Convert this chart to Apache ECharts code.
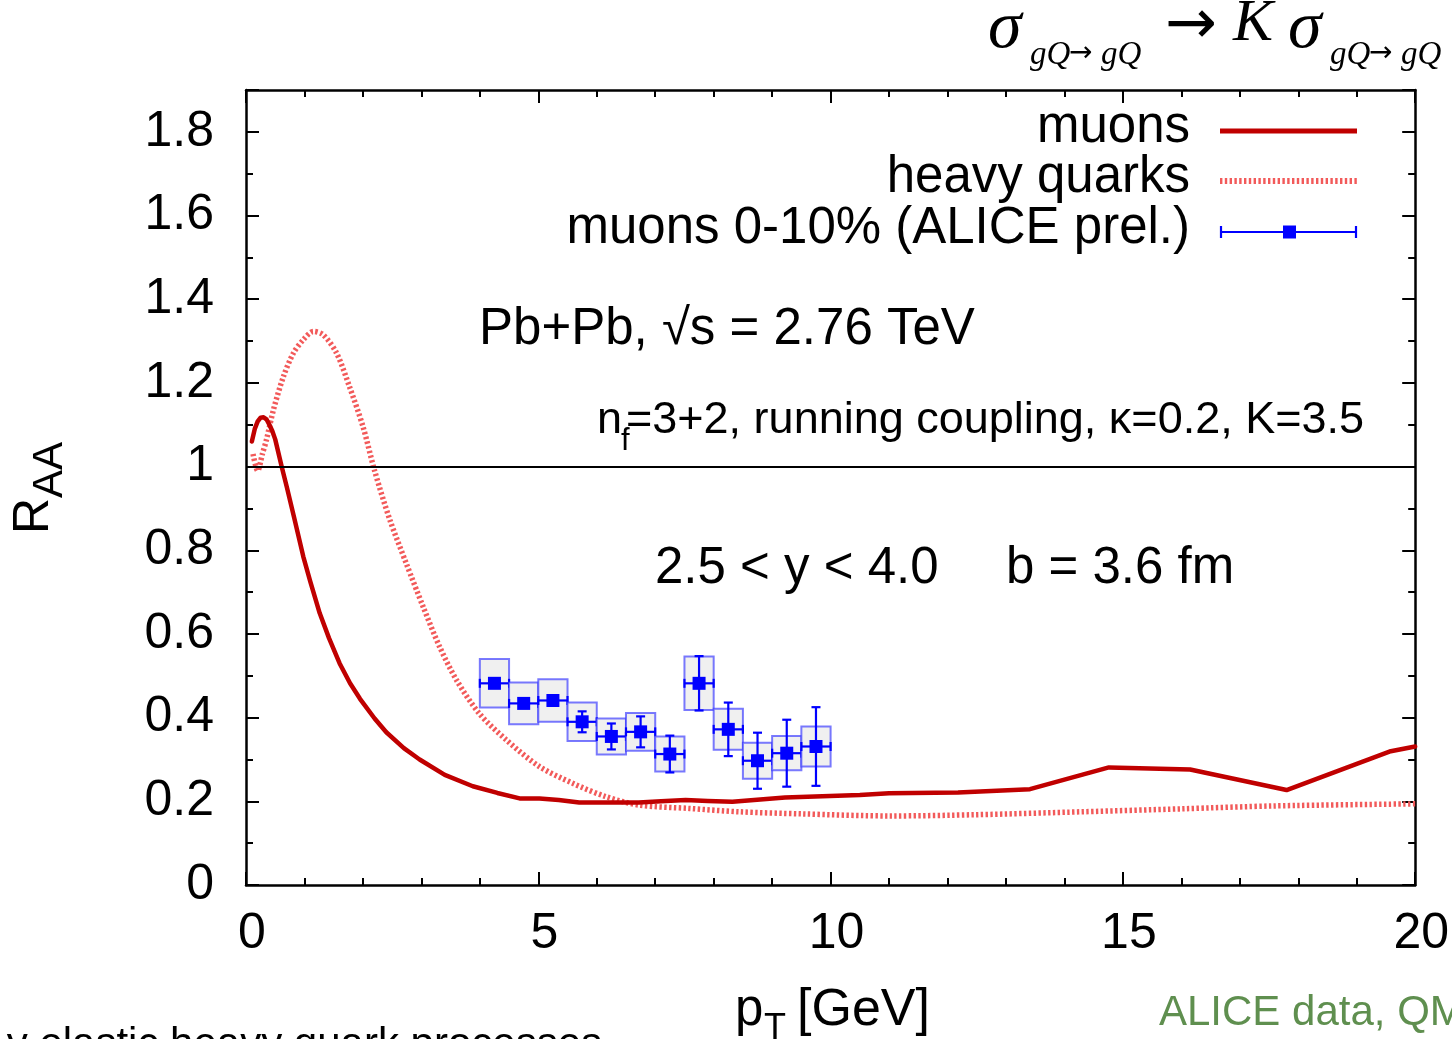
<!DOCTYPE html>
<html><head><meta charset="utf-8">
<script src="https://cdn.jsdelivr.net/npm/echarts@6/dist/echarts.min.js"></script>
<style>html,body{margin:0;padding:0;background:#fff;overflow:hidden}#c{width:1452px;height:1039px;}</style>
</head><body><div id="c"></div>
<script>
// ---- data ----
const xRange = [0, 20];
const xStep = 5;
const yRange = [0, 1.9];
const yStep = 0.2;

const muonsPt  = [0.10,0.15,0.20,0.25,0.30,0.35,0.40,0.45,0.50,0.61,0.70,0.82,0.98,1.10,1.26,1.42,1.60,1.78,1.95,2.20,2.40,2.70,2.97,3.40,3.88,4.30,4.68,5.02,5.35,5.70,6.20,6.72,7.10,7.52,7.90,8.32,9.22,10.5,11.0,12.18,13.41,14.76,16.15,17.80,19.56,20.0];
const muonsRaa = [1.06,1.09,1.108,1.117,1.118,1.113,1.100,1.085,1.065,1.00,0.95,0.88,0.785,0.725,0.650,0.590,0.530,0.482,0.445,0.398,0.365,0.327,0.300,0.263,0.236,0.220,0.207,0.207,0.203,0.197,0.197,0.197,0.200,0.203,0.201,0.199,0.209,0.215,0.219,0.221,0.229,0.281,0.276,0.227,0.319,0.331];

const hqPt  = [0.12,0.20,0.28,0.35,0.47,0.64,0.81,0.98,1.15,1.32,1.55,1.77,2.00,2.20,2.46,2.74,3.03,3.31,3.60,3.99,4.45,5.02,5.59,6.16,6.72,7.58,8.43,9.50,11.03,12.50,14.31,16.00,17.59,20.0];
const hqRaa = [1.03,0.99,1.03,1.064,1.136,1.215,1.271,1.303,1.323,1.315,1.271,1.191,1.096,0.99,0.873,0.769,0.665,0.570,0.490,0.410,0.347,0.283,0.243,0.211,0.191,0.183,0.175,0.170,0.165,0.168,0.175,0.182,0.189,0.194];

const alicePt   = [4.25,4.75,5.25,5.75,6.25,6.75,7.25,7.75,8.25,8.75,9.25,9.75];
const aliceRaa  = [0.482,0.434,0.441,0.390,0.355,0.366,0.313,0.482,0.372,0.297,0.315,0.331];
const aliceStat = [0.010,0.010,0.010,0.025,0.031,0.037,0.044,0.065,0.064,0.067,0.080,0.094];
const aliceSys  = [0.058,0.050,0.051,0.046,0.043,0.045,0.042,0.064,0.049,0.043,0.041,0.048];
const aliceBinHalf = [0.25,0.25,0.25,0.25,0.25,0.25,0.25,0.25,0.25,0.25,0.25,0.25];

const legendNames = ['muons', 'heavy quarks', 'muons 0-10% (ALICE prel.)'];

// ---- chart ----
const SANS = "'Liberation Sans', Arial, Helvetica, sans-serif";
const SERIF = "'Liberation Serif', 'Times New Roman', serif";
const RED = '#c00000', PINK = '#f25a5a', BLUE = '#0000ff';

const muonsData = muonsPt.map((x, i) => [x, muonsRaa[i]]);
const hqData = hqPt.map((x, i) => [x, hqRaa[i]]);
const aliceData = alicePt.map((x, i) => [x, aliceRaa[i], aliceStat[i], aliceSys[i], aliceBinHalf[i]]);

function renderAlice(params, api) {
  const x = api.value(0), y = api.value(1), st = api.value(2), sy = api.value(3), hw = api.value(4);
  const pL = api.coord([x - hw, y]), pR = api.coord([x + hw, y]), pC = api.coord([x, y]);
  const sT = api.coord([x, y + sy]), sB = api.coord([x, y - sy]);
  const eT = api.coord([x, y + st]), eB = api.coord([x, y - st]);
  const lw = 2.2, cap = 4.5, m = 6.5;
  const ln = (x1, y1, x2, y2) => ({type: 'line', shape: {x1, y1, x2, y2}, style: {stroke: BLUE, lineWidth: lw}});
  return {type: 'group', children: [
    {type: 'rect', shape: {x: pL[0], y: sT[1], width: pR[0] - pL[0], height: sB[1] - sT[1]},
     style: {fill: '#f0f0f0', stroke: 'rgba(50,50,255,0.65)', lineWidth: 2}},
    ln(pL[0], pC[1], pR[0], pC[1]),
    ln(pL[0], pC[1] - cap, pL[0], pC[1] + cap),
    ln(pR[0], pC[1] - cap, pR[0], pC[1] + cap),
    ln(pC[0], eT[1], pC[0], eB[1]),
    ln(pC[0] - cap, eT[1], pC[0] + cap, eT[1]),
    ln(pC[0] - cap, eB[1], pC[0] + cap, eB[1]),
    {type: 'rect', shape: {x: pC[0] - m, y: pC[1] - m, width: 2 * m, height: 2 * m}, style: {fill: BLUE}}
  ]};
}

const axisCommon = {
  type: 'value',
  axisLine: {show: true, onZero: false, lineStyle: {color: '#000', width: 2.5}},
  axisTick: {show: true, inside: true, length: 13, lineStyle: {color: '#000', width: 2}},
  minorTick: {show: true, length: 7, lineStyle: {color: '#000', width: 2}},
  splitLine: {show: false},
  minorSplitLine: {show: false}
};

function yFmt(v) {
  const k = v / yStep;
  if (Math.abs(k - Math.round(k)) > 1e-6) return '';
  return String(+v.toFixed(1));
}

const chart = echarts.init(document.getElementById('c'), null, {renderer: 'canvas'});

function t(text, x, y, font, extra) {
  return Object.assign({type: 'text', x, y, silent: true,
    style: Object.assign({text, font, fill: '#000', align: 'left', verticalAlign: 'middle'}, (extra && extra.style) || {})},
    extra && extra.rotation !== undefined ? {rotation: extra.rotation} : {});
}

const legendY = [131, 181, 232];
const graphics = [
  // top formula
  t('σ', 988, 29, 'italic 68px ' + SERIF),
  t('gQ', 1030, 55, 'italic 33px ' + SERIF),
  t('→', 1069, 54, '28px DejaVu Sans'),
  t('gQ', 1101, 55, 'italic 33px ' + SERIF),
  t('→', 1165, 27, '62px DejaVu Sans'),
  t('K', 1233, 24, 'italic 60px ' + SERIF),
  t('σ', 1288, 29, 'italic 68px ' + SERIF),
  t('gQ', 1330, 55, 'italic 33px ' + SERIF),
  t('→', 1369, 54, '28px DejaVu Sans'),
  t('gQ', 1401, 55, 'italic 33px ' + SERIF),
  // annotations
  t('Pb+Pb, √s = 2.76 TeV', 479, 330, '51px ' + SANS),
  t('n', 597, 421, '45px ' + SANS),
  t('f', 621, 441, '31px ' + SANS),
  t('=3+2, running coupling, κ=0.2, K=3.5', 626, 421, '45px ' + SANS),
  t('2.5 < y < 4.0', 655, 569, '51px ' + SANS),
  t('b = 3.6 fm', 1006, 569, '51px ' + SANS),
  // legend texts
  t(legendNames[0], 1190, legendY[0] - 3, '51px ' + SANS, {style: {align: 'right'}}),
  t(legendNames[1], 1190, legendY[1] - 3, '51px ' + SANS, {style: {align: 'right'}}),
  t(legendNames[2], 1190, legendY[2] - 3, '51px ' + SANS, {style: {align: 'right'}}),
  // legend samples
  {type: 'line', silent: true, shape: {x1: 1220, y1: legendY[0], x2: 1357, y2: legendY[0]}, style: {stroke: RED, lineWidth: 5}},
  {type: 'line', silent: true, shape: {x1: 1220, y1: legendY[1], x2: 1357, y2: legendY[1]}, style: {stroke: PINK, lineWidth: 6, lineDash: [2.4, 2.4]}},
  {type: 'line', silent: true, shape: {x1: 1220, y1: legendY[2], x2: 1357, y2: legendY[2]}, style: {stroke: BLUE, lineWidth: 2.2}},
  {type: 'line', silent: true, shape: {x1: 1221, y1: legendY[2] - 6, x2: 1221, y2: legendY[2] + 6}, style: {stroke: BLUE, lineWidth: 2.2}},
  {type: 'line', silent: true, shape: {x1: 1356, y1: legendY[2] - 6, x2: 1356, y2: legendY[2] + 6}, style: {stroke: BLUE, lineWidth: 2.2}},
  {type: 'rect', silent: true, shape: {x: 1283, y: legendY[2] - 6.5, width: 13, height: 13}, style: {fill: BLUE}},
  // axis titles
  t('R', 34, 534, '50px ' + SANS, {rotation: Math.PI / 2}),
  t('AA', 50.5, 498, '42px ' + SANS, {rotation: Math.PI / 2}),
  t('p', 735, 1011, '51px ' + SANS),
  t('T', 764, 1029, '36px ' + SANS),
  t('[GeV]', 797, 1011, '52px ' + SANS),
  // cut-off texts at bottom
  t('y elastic heavy quark processes', 602, 1045, '42px ' + SANS, {style: {align: 'right'}}),
  t('ALICE data, QM2011', 1159, 1013, '42px ' + SANS, {style: {fill: '#5f8f4f'}})
];

chart.setOption({
  animation: false,
  backgroundColor: '#fff',
  grid: {left: 246, top: 90, width: 1172, height: 795, containLabel: false},
  xAxis: [
    Object.assign({}, axisCommon, {position: 'bottom', min: xRange[0], max: xRange[1], interval: xStep,
      minorTick: Object.assign({}, axisCommon.minorTick, {splitNumber: 5}),
      axisLabel: {show: true, color: '#000', fontFamily: SANS, fontSize: 50, margin: 24, padding: [0, 0, 0, 12],
        showMinLabel: true, showMaxLabel: true}}),
    Object.assign({}, axisCommon, {position: 'top', min: xRange[0], max: xRange[1], interval: xStep,
      minorTick: Object.assign({}, axisCommon.minorTick, {splitNumber: 5}),
      axisLabel: {show: false}})
  ],
  yAxis: [
    Object.assign({}, axisCommon, {position: 'left', min: yRange[0], max: yRange[1], interval: yStep,
      minorTick: Object.assign({}, axisCommon.minorTick, {splitNumber: 2}),
      axisLabel: {show: true, color: '#000', fontFamily: SANS, fontSize: 50, margin: 32, formatter: yFmt}}),
    Object.assign({}, axisCommon, {position: 'right', min: yRange[0], max: yRange[1], interval: yStep,
      minorTick: Object.assign({}, axisCommon.minorTick, {splitNumber: 2}),
      axisLabel: {show: false}})
  ],
  series: [
    {name: legendNames[1], type: 'line', data: hqData, showSymbol: false, symbol: 'none', smooth: 0.3,
     lineStyle: {color: PINK, width: 5.5, type: [2.4, 2.4]}, z: 2,
     markLine: {silent: true, symbol: 'none', label: {show: false},
       lineStyle: {color: '#000', width: 2, type: 'solid'}, data: [{yAxis: 1}]}},
    {name: legendNames[0], type: 'line', data: muonsData, showSymbol: false, symbol: 'none', smooth: false,
     lineStyle: {color: RED, width: 4.5, join: 'round', cap: 'round'}, z: 3},
    {name: legendNames[2], type: 'custom', renderItem: renderAlice, data: aliceData, z: 4,
     encode: {x: 0, y: 1}}
  ],
  graphic: graphics
});
</script>
</body></html>
